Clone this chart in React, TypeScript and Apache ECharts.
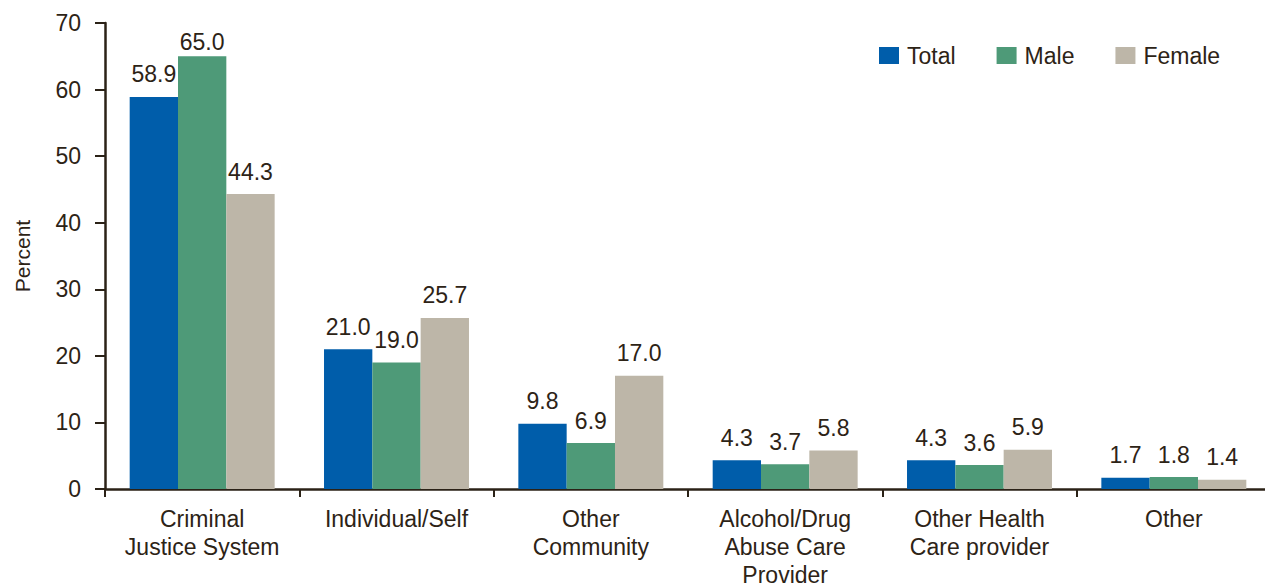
import React, { useEffect, useRef } from "react";
import * as echarts from "echarts";

const categories = [
  "Criminal\nJustice System",
  "Individual/Self",
  "Other\nCommunity",
  "Alcohol/Drug\nAbuse Care\nProvider",
  "Other Health\nCare provider",
  "Other",
];
const totalValues = [58.9, 21.0, 9.8, 4.3, 4.3, 1.7];
const maleValues = [65.0, 19.0, 6.9, 3.7, 3.6, 1.8];
const femaleValues = [44.3, 25.7, 17.0, 5.8, 5.9, 1.4];
const yTicks = [0, 10, 20, 30, 40, 50, 60, 70];

const TEXT = "#2d2316";
const AXIS = "#2b2217";
const FONT = "'Liberation Sans', Arial, Helvetica, sans-serif";

export default function App() {
  const ref = useRef<HTMLDivElement>(null);
  useEffect(() => {
    if (!ref.current) return;
    const chart = echarts.init(ref.current, undefined, { renderer: "svg" });
    const mkData = (vals: number[]) =>
      vals.map((v) => ({
        value: v,
        label: v >= 62 ? { distance: 3 } : undefined,
      }));
    const mkSeries = (name: string, vals: number[], color: string) => ({
      name,
      type: "bar",
      data: mkData(vals),
      itemStyle: { color },
      barGap: "0%",
      barCategoryGap: "25.4%",
      label: {
        show: true,
        position: "top",
        distance: 11,
        color: TEXT,
        fontFamily: FONT,
        fontSize: 23,
        formatter: (p: any) => Number(p.value).toFixed(1),
      },
    });
    chart.setOption({
      animation: false,
      backgroundColor: "#ffffff",
      textStyle: { fontFamily: FONT, color: TEXT },
      legend: {
        left: 879,
        top: 44,
        padding: 0,
        itemWidth: 20,
        itemHeight: 17,
        itemGap: 41,
        icon: "rect",
        textStyle: {
          color: TEXT,
          fontFamily: FONT,
          fontSize: 23,
          padding: [0, 0, 0, 3],
        },
        data: ["Total", "Male", "Female"],
      },
      grid: {
        left: 105,
        right: -6,
        top: 23,
        bottom: 98,
        containLabel: false,
        outerBoundsMode: "none",
      },
      xAxis: {
        type: "category",
        data: categories,
        axisLine: { show: true, lineStyle: { color: AXIS, width: 2.5 } },
        axisTick: { show: true, length: 8, lineStyle: { color: AXIS, width: 2 } },
        axisLabel: {
          color: TEXT,
          fontFamily: FONT,
          fontSize: 23,
          lineHeight: 28,
          margin: 16,
          interval: 0,
        },
      },
      yAxis: {
        type: "value",
        min: yTicks[0],
        max: yTicks[yTicks.length - 1],
        interval: 10,
        name: "Percent",
        nameLocation: "middle",
        nameGap: 72,
        nameRotate: 90,
        nameTextStyle: { color: TEXT, fontFamily: FONT, fontSize: 21 },
        splitLine: { show: false },
        axisLine: { show: true, lineStyle: { color: AXIS, width: 2.5 } },
        axisTick: { show: true, length: 10, lineStyle: { color: AXIS, width: 2 } },
        axisLabel: {
          color: TEXT,
          fontFamily: FONT,
          fontSize: 23,
          margin: 24,
        },
      },
      series: [
        mkSeries("Total", totalValues, "#005daa"),
        mkSeries("Male", maleValues, "#4e9a78"),
        mkSeries("Female", femaleValues, "#bdb6a8"),
      ],
    });
    return () => chart.dispose();
  }, []);
  return (
    <div
      ref={ref}
      style={{ position: "absolute", left: 0, top: 0, width: 1265, height: 587 }}
    />
  );
}
